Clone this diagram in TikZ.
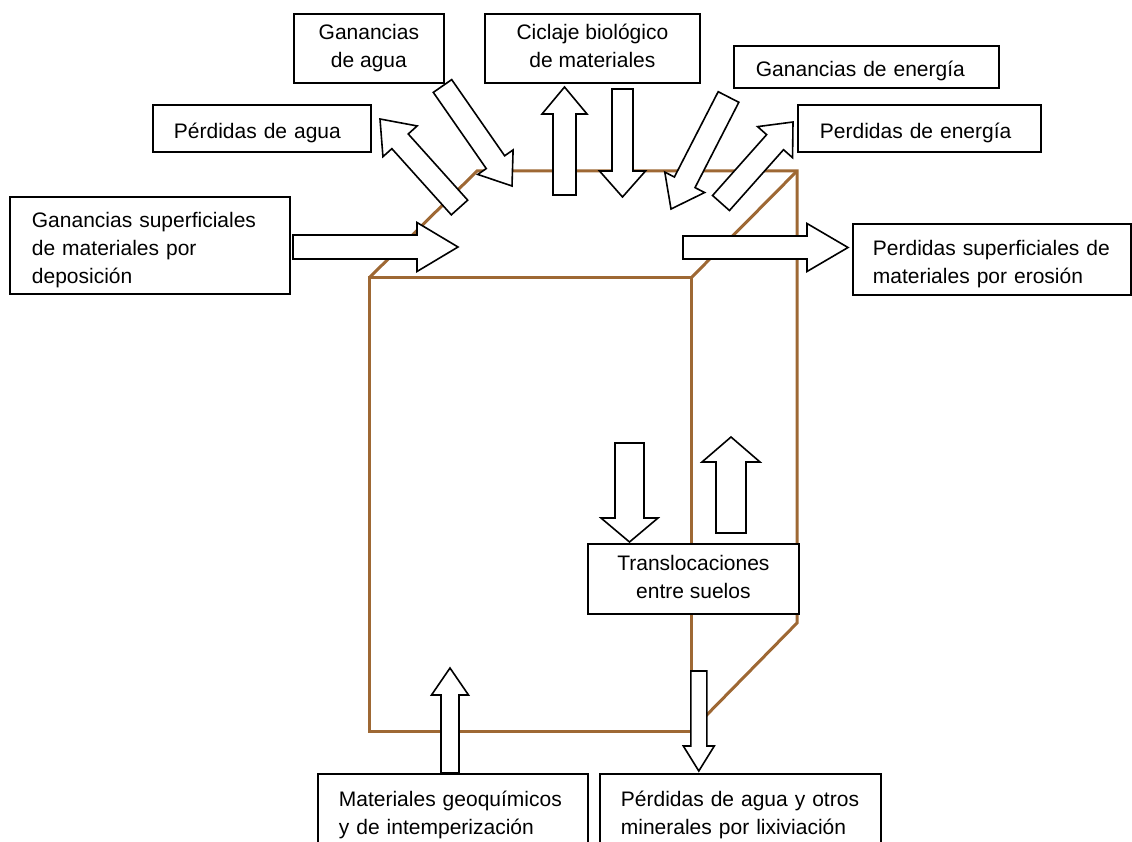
\documentclass[tikz,border=0pt]{standalone}
\usepackage{fontspec}
\setmainfont{Liberation Sans}
\usetikzlibrary{calc}
\definecolor{soilbrown}{RGB}{158,104,52}
\tikzset{
  tb/.style={draw, line width=1.8pt, fill=white, inner ysep=0pt, anchor=north west,
    font=\fontsize{21}{28}\selectfont,
    execute at begin node={\rule{0pt}{25pt}},
    execute at end node={\rule[-5pt]{0pt}{5pt}}},
  blk/.style={draw, line width=1.6pt, fill=white, line join=miter},
  soil/.style={draw=soilbrown, line width=3pt, line join=miter}
}
% #1 name, #2 tail, #3 tip, #4 shaft half width, #5 head half width, #6 head length
\newcommand\blockarrow[6]{%
  \coordinate (#1t) at #2;
  \coordinate (#1p) at #3;
  \coordinate (#1b) at ($(#1p)!#6pt!(#1t)$);
  \draw[blk] ($(#1t)!#4pt!90:(#1p)$) -- ($(#1b)!#4pt!90:(#1p)$)
    -- ($(#1b)!#5pt!90:(#1p)$) -- (#1p) -- ($(#1b)!#5pt!-90:(#1p)$)
    -- ($(#1b)!#4pt!-90:(#1p)$) -- ($(#1t)!#4pt!-90:(#1p)$) -- cycle;
}
\begin{document}
\begin{tikzpicture}[x=1pt,y=-1pt]
\useasboundingbox (0,0) rectangle (1132,842);
% soil prism
\coordinate (ftl) at (369,278);
\coordinate (ftr) at (691,278);
\coordinate (fbr) at (691,731);
\coordinate (fbl) at (369,731);
\coordinate (btl) at (477,171);
\coordinate (btr) at (797,171);
\coordinate (bbr) at (797,623);
\draw[soil] (ftl) -- (ftr) -- (fbr) -- (fbl) -- cycle;
\draw[soil] (ftl) -- (btl) -- (btr) -- (bbr) -- (fbr);
\draw[soil] (ftr) -- (btr);
% block arrows
\blockarrow{a}{(293,247)}{(458,247)}{12}{24.5}{41}
\blockarrow{b}{(459.5,207.5)}{(380,119)}{11}{23}{30}
\blockarrow{c}{(442.5,86)}{(512,186)}{11.2}{21.5}{29}
\blockarrow{d}{(564.5,195)}{(564.5,87)}{11.5}{22.5}{27}
\blockarrow{e}{(622.5,89)}{(622.5,197)}{10.5}{23}{26}
\blockarrow{f}{(728.5,97)}{(671,209)}{11.6}{22.4}{30}
\blockarrow{g}{(721,203)}{(793,122)}{11.3}{23.4}{27}
\blockarrow{h}{(683,247.5)}{(848,247.5)}{11.5}{24}{41}
\blockarrow{i}{(629.5,443)}{(629.5,542)}{14.5}{28.5}{24}
\blockarrow{j}{(731,533)}{(731,437)}{15}{29}{25}
\blockarrow{k}{(450,773)}{(450,668)}{9}{18.5}{27}
\blockarrow{l}{(698.8,671)}{(698.8,771)}{8}{15.5}{25}
% text boxes
\node[tb, align=center, minimum width=150pt, minimum height=69pt] (gagua) at (293,13)
  {Ganancias\\de agua};
\node[tb, align=center, minimum width=215pt, minimum height=69pt] (ciclaje) at (484,13)
  {Ciclaje biológico\\de materiales};
\node[tb, align=left, inner xsep=22pt, text width=221pt, minimum width=265pt, minimum height=42pt] (genergia) at (733,45)
  {Ganancias de energía};
\node[tb, align=left, inner xsep=22pt, text width=199pt, minimum width=243pt, minimum height=47pt] (penergia) at (797,104)
  {Perdidas de energía};
\node[tb, align=left, inner xsep=20pt, text width=238pt, minimum width=278pt, minimum height=71pt] (perosion) at (852,223)
  {Perdidas superficiales de\\materiales por erosión};
\node[tb, align=left, inner xsep=21pt, text width=176pt, minimum width=218pt, minimum height=47pt] (pagua) at (152,104)
  {Pérdidas de agua};
\node[tb, align=left, inner xsep=22pt, text width=236pt, minimum width=280pt, minimum height=97pt] (gdepos) at (9,196)
  {Ganancias superficiales\\de materiales por\\deposición};
\node[tb, align=center, minimum width=211pt, minimum height=70pt] (transl) at (587,543)
  {Translocaciones\\entre suelos};
\node[tb, align=left, inner xsep=21pt, text width=228pt, minimum width=270pt, minimum height=73pt] (geoq) at (317,773)
  {Materiales geoquímicos\\y de intemperización};
\node[tb, align=left, inner xsep=21pt, text width=239pt, minimum width=281pt, minimum height=73pt] (lixiv) at (599,773)
  {Pérdidas de agua y otros\\minerales por lixiviación};
\end{tikzpicture}
\end{document}
